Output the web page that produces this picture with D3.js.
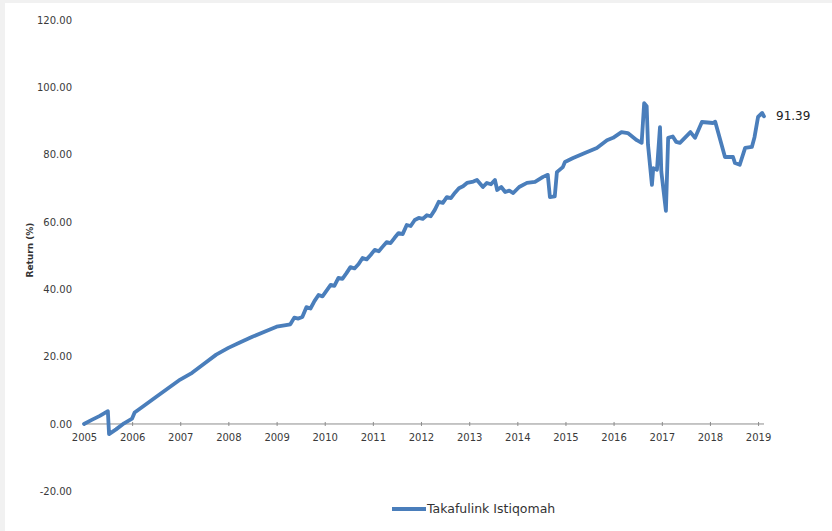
<!DOCTYPE html>
<html>
<head>
<meta charset="utf-8">
<script src="https://cdnjs.cloudflare.com/ajax/libs/d3/7.8.5/d3.min.js"></script>
<style>
  body { margin: 0; background: #f1f1f1; }
  svg { display: block; }
</style>
</head>
<body>
<svg id="chart" width="832" height="531"></svg>
<script>
const seriesName = "Takafulink Istiqomah";
const dates = [
  "2005-01-01", "2005-03-01", "2005-05-01", "2005-07-01", "2005-07-10", "2005-09-01", "2005-11-01",
  "2006-01-01", "2006-01-20", "2006-04-01", "2006-07-01", "2006-10-01",
  "2007-01-01", "2007-04-01", "2007-07-01", "2007-10-01",
  "2008-01-01", "2008-04-01", "2008-07-01", "2008-10-01",
  "2009-01-01", "2009-03-01", "2009-04-15", "2009-05-15", "2009-06-15", "2009-07-15", "2009-08-15",
  "2009-09-15", "2009-10-15", "2009-11-15", "2009-12-15",
  "2010-01-15", "2010-02-15", "2010-03-15", "2010-04-15", "2010-05-15", "2010-06-15", "2010-07-15",
  "2010-08-15", "2010-09-15", "2010-10-15", "2010-11-15", "2010-12-15",
  "2011-01-15", "2011-02-15", "2011-03-15", "2011-04-15", "2011-05-15", "2011-06-15", "2011-07-15",
  "2011-08-15", "2011-09-15", "2011-10-15", "2011-11-15", "2011-12-15",
  "2012-01-15", "2012-02-15", "2012-03-15", "2012-04-15", "2012-05-15", "2012-06-15", "2012-07-15",
  "2012-08-15", "2012-09-15", "2012-10-15", "2012-11-15", "2012-12-15",
  "2013-02-01", "2013-03-01", "2013-04-15", "2013-05-15", "2013-06-15", "2013-07-15", "2013-08-01",
  "2013-09-01", "2013-10-01", "2013-11-01", "2013-12-01",
  "2014-01-15", "2014-03-15", "2014-05-15", "2014-07-15", "2014-08-20", "2014-09-05", "2014-10-12",
  "2014-10-28", "2014-12-12", "2014-12-28",
  "2015-02-28", "2015-05-28", "2015-08-27", "2015-11-12", "2015-12-28",
  "2016-03-01", "2016-04-18", "2016-06-25", "2016-08-01", "2016-08-20", "2016-09-08", "2016-09-18",
  "2016-10-18", "2016-10-28", "2016-11-25", "2016-12-18", "2016-12-28",
  "2017-02-01", "2017-02-18", "2017-03-25", "2017-04-20", "2017-05-18", "2017-08-06", "2017-09-10",
  "2017-11-01",
  "2018-01-25", "2018-02-10", "2018-04-25", "2018-06-25", "2018-07-10", "2018-08-15", "2018-09-25",
  "2018-11-15", "2018-12-05",
  "2019-01-01", "2019-02-01", "2019-02-15"
];
const returns = [
  0, 1.2, 2.4, 3.8, -3.0, -1.6, 0.2,
  1.6, 3.4, 5.4, 8.0, 10.6,
  13.2, 15.2, 17.9, 20.6,
  22.6, 24.3, 25.9, 27.4,
  28.9, 29.3, 29.6, 31.6, 31.3, 31.8, 34.7,
  34.3, 36.5, 38.3, 37.9,
  39.6, 41.3, 41.0, 43.4, 43.1, 44.8, 46.6,
  46.2, 47.5, 49.3, 48.9, 50.2,
  51.7, 51.3, 52.6, 54.0, 53.7, 55.3, 56.7,
  56.4, 59.1, 58.8, 60.6, 61.2,
  60.9, 62.0, 61.7, 63.6, 66.0, 65.7, 67.4,
  67.1, 68.7, 70.0, 70.6, 71.6,
  72.0, 72.5, 70.4, 71.6, 71.2, 72.5, 69.5,
  70.4, 68.9, 69.3, 68.6,
  70.4, 71.6, 71.9, 73.4, 74.0, 67.4, 67.6,
  74.8, 76.3, 77.8,
  79.0, 80.5, 82.0, 84.3, 85.0,
  86.7, 86.4, 84.3, 83.5, 95.3, 94.4, 83.0,
  71.0, 76.0, 75.5, 88.2, 75.0,
  63.3, 85.0, 85.4, 83.8, 83.5, 86.7, 85.0,
  89.7,
  89.4, 89.8, 79.3, 79.3, 77.5, 77.0, 82.0,
  82.3, 85.2,
  91.2, 92.4, 91.39
];
const yTicks = [-20, 0, 20, 40, 60, 80, 100, 120];

const parse = d3.timeParse("%Y-%m-%d");
const data = dates.map((d, i) => ({ date: parse(d), value: returns[i] }));

const svg = d3.select("#chart");
svg.append("rect")
  .attr("x", 5).attr("y", 3)
  .attr("width", 827).attr("height", 528)
  .attr("fill", "#fff");

const x = d3.scaleTime()
  .domain([parse("2005-01-01"), parse("2019-02-15")])
  .range([84, 764]);
const y = d3.scaleLinear().domain([-20, 120]).range([491.3, 20]);

// y labels only, plain hyphen for negatives like the original
const fmt = d => d.toFixed(2);
const yAxis = svg.append("g")
  .attr("transform", "translate(84,0)")
  .call(d3.axisLeft(y).tickValues(yTicks).tickFormat(fmt).tickSize(0).tickPadding(12));
yAxis.select(".domain").remove();
yAxis.selectAll("text")
  .style("font-family", "DejaVu Sans")
  .style("font-size", "10px")
  .attr("fill", "#3a3a3a");

// x axis along zero
const xAxis = svg.append("g")
  .attr("transform", `translate(0,${y(0)})`)
  .call(d3.axisBottom(x).ticks(d3.timeYear.every(1)).tickFormat(d3.timeFormat("%Y")).tickSize(2).tickPadding(8));
xAxis.select(".domain").attr("stroke", "#8c8c8c").attr("d", `M84,0H764`);
xAxis.selectAll(".tick line").attr("stroke", "#8c8c8c").attr("y1", -2);
xAxis.selectAll("text")
  .style("font-family", "DejaVu Sans")
  .style("font-size", "10px")
  .attr("fill", "#3a3a3a");

svg.append("text")
  .attr("transform", "translate(30,250) rotate(-90)")
  .attr("text-anchor", "middle")
  .attr("dominant-baseline", "middle")
  .style("font-family", "DejaVu Sans")
  .style("font-size", "9px")
  .style("font-weight", "bold")
  .attr("fill", "#333")
  .text("Return (%)");

const line = d3.line().x(d => x(d.date)).y(d => y(d.value));
svg.append("path")
  .datum(data)
  .attr("d", line)
  .attr("fill", "none")
  .attr("stroke", "#4a7ebb")
  .attr("stroke-width", 3.8)
  .attr("stroke-linejoin", "round")
  .attr("stroke-linecap", "round");

const last = data[data.length - 1];
svg.append("text")
  .attr("x", x(last.date) + 12)
  .attr("y", y(last.value))
  .attr("dominant-baseline", "middle")
  .style("font-family", "DejaVu Sans")
  .style("font-size", "12px")
  .attr("fill", "#222")
  .text(last.value.toFixed(2));

// legend
const legend = svg.append("g").attr("transform", "translate(392,509)");
legend.append("line")
  .attr("x1", 0).attr("x2", 34)
  .attr("stroke", "#4a7ebb").attr("stroke-width", 3.8);
legend.append("text")
  .attr("x", 35)
  .attr("dominant-baseline", "middle")
  .style("font-family", "DejaVu Sans")
  .style("font-size", "12.5px")
  .attr("fill", "#333")
  .text(seriesName);
</script>
</body>
</html>
